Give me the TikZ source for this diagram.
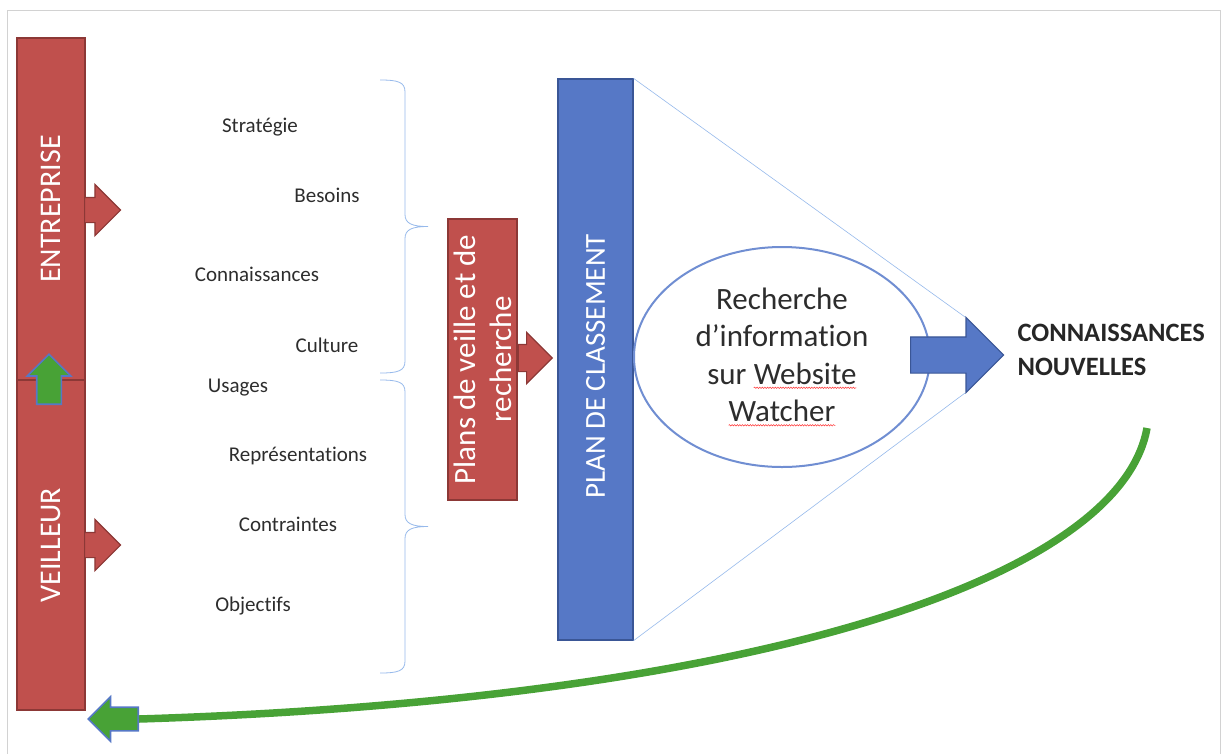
\documentclass[tikz,border=0pt]{standalone}
\usepackage{fontspec}
\setmainfont{Carlito}[Ligatures=NoCommon]
\usetikzlibrary{shapes.geometric,shapes.arrows,decorations.pathmorphing}
\definecolor{barred}{RGB}{192,80,77}
\definecolor{barredline}{RGB}{140,56,54}
\definecolor{barblue}{RGB}{86,120,198}
\definecolor{barblueline}{RGB}{58,86,150}
\definecolor{leafgreen}{RGB}{72,162,54}
\definecolor{bracecol}{RGB}{150,185,235}
\definecolor{ringblue}{RGB}{112,142,210}
\definecolor{textgray}{RGB}{45,45,45}
\newcommand{\spellmark}[1]{\tikz[baseline=(w.base)]{\node[rectangle, draw=none, fill=none,
    minimum width=0pt, minimum height=0pt, inner sep=0pt, outer sep=0pt] (w) {#1};
  \draw[red!80, line width=.5pt, decorate, decoration={snake, amplitude=.7pt, segment length=2.6pt}]
    ([yshift=-3.5pt]w.base west) -- ([yshift=-3.5pt]w.base east);}}
\newcommand{\sidebrace}[3]{% x, top, bottom
  \pgfmathsetmacro{\bm}{(#2+#3)/2}
  \draw[bracecol, line width=.8pt] (#1,#2) .. controls (#1+18,#2) and (#1+25,#2+2) .. (#1+25,#2+12)
    -- (#1+25,\bm-12) .. controls (#1+25,\bm-3) and (#1+32,\bm) .. (#1+48,\bm)
    .. controls (#1+32,\bm) and (#1+25,\bm+3) .. (#1+25,\bm+12)
    -- (#1+25,#3-12) .. controls (#1+25,#3-2) and (#1+18,#3) .. (#1,#3);}
\tikzset{
  redbar/.style = {rectangle, draw=barredline, fill=barred, line width=1.2pt, inner sep=0pt},
  bluebar/.style = {redbar, draw=barblueline, fill=barblue},
  barlbl/.style = {rotate=90, text=white, font=\fontsize{30}{36}\selectfont, align=center},
  blockarr/.style = {single arrow, single arrow tip angle=90, minimum width=0pt,
                     inner xsep=0pt, line width=1.2pt},
  redarr/.style = {blockarr, draw=barredline, fill=barred, inner ysep=12pt,
                   single arrow head extend=13pt},
  bluearr/.style = {blockarr, draw=barblueline, fill=barblue, inner ysep=17.5pt,
                    single arrow head extend=19.5pt, minimum height=93pt},
  greenarr/.style = {blockarr, draw=barblue, fill=leafgreen, line width=1.6pt},
  lbl/.style = {anchor=base, text=textgray, font=\fontsize{21}{25}\selectfont},
  tri/.style = {bracecol, line width=.6pt}
}
\begin{document}
\begin{tikzpicture}[x=1pt, y=-1pt]
  \useasboundingbox (0,0) rectangle (1221,753);
  \draw[gray!35, line width=1pt] (7,770) -- (7,10) -- (1220,10) -- (1220,770);
  % left column
  \node[redbar, minimum width=68pt, minimum height=342pt,
        label={[barlbl]center:ENTREPRISE}] (ent) at (51,209) {};
  \node[redbar, minimum width=68pt, minimum height=330pt,
        label={[barlbl]center:VEILLEUR}] (veil) at (51,545) {};
  \node[redarr, minimum height=36pt, anchor=tail] (entarr) at (84,210) {};
  \node[redarr, minimum height=36pt, anchor=tail] (veilarr) at (84,545) {};
  \node[greenarr, rotate=90, inner ysep=11.5pt, single arrow head extend=9.5pt,
        minimum height=50pt, anchor=tail] (up) at (49,405) {};
  % items
  \node[lbl] (strat) at (260,132) {Stratégie};
  \node[lbl] (bes) at (327,202) {Besoins};
  \node[lbl] (conn) at (257,281) {Connaissances};
  \node[lbl] (cult) at (327,352) {Culture};
  \node[lbl] (usa) at (238,392) {Usages};
  \node[lbl] (repr) at (298,461) {Représentations};
  \node[lbl] (contr) at (288,531) {Contraintes};
  \node[lbl] (obj) at (253,611) {Objectifs};
  \sidebrace{380}{80}{373}
  \sidebrace{380}{380}{673}
  % plans
  \node[redbar, minimum width=69pt, minimum height=281pt,
        label={[barlbl, font=\fontsize{31}{36}\selectfont]center:Plans de veille et de\\recherche}] (plans) at (482.5,359.5) {};
  \node[redarr, inner ysep=13pt, single arrow head extend=12pt, minimum height=34pt,
        anchor=tail] (plansarr) at (plans.east |- 0,358) {};
  \node[bluebar, minimum width=75pt, minimum height=561pt,
        label={[barlbl, xshift=-7pt, font=\fontsize{29}{34}\selectfont]center:PLAN DE CLASSEMENT}] (cls) at (595.5,359.5) {};
  % funnel
  \coordinate (apexT) at (965,317);
  \coordinate (apexB) at (965,393);
  \draw[tri] (cls.north east) -- (apexT);
  \draw[tri] (cls.south east) -- (apexB);
  \node[ellipse, draw=ringblue, line width=2pt, fill=white, minimum width=296pt,
        minimum height=220pt, inner sep=0pt, align=center, text=textgray,
        font=\fontsize{31}{37.5}\selectfont] (search) at (782,357)
        {Recherche\\d'information\\sur \spellmark{Website}\\\spellmark{Watcher}};
  \node[bluearr, anchor=tail] (outarr) at (910,355) {};
  \node[anchor=west, align=left, text=black!85, font=\bfseries\fontsize{26.5}{34}\selectfont]
        (new) at (1014,350) {CONNAISSANCES\\NOUVELLES};
  % feedback
  \coordinate (gstart) at (1147,428);
  \node[greenarr, shape border rotate=180, inner ysep=11pt, single arrow head extend=10.5pt,
        minimum height=50pt, anchor=tail] (back) at (139,719) {};
  \draw[leafgreen, line width=7.5pt] (gstart) .. controls (1120,580) and (750,700) .. (back.tail);
\end{tikzpicture}
\end{document}
